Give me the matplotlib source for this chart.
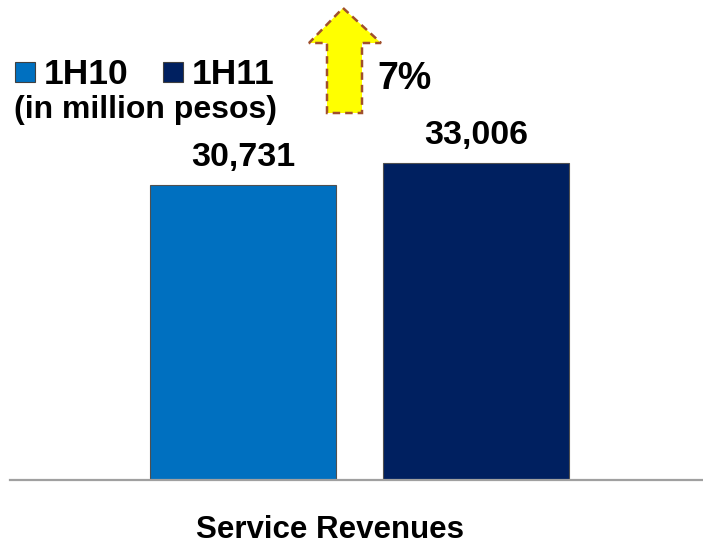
import matplotlib
matplotlib.use("Agg")
import matplotlib.pyplot as plt
from matplotlib.patches import Polygon, Rectangle

plt.rcParams['font.family'] = ['Liberation Sans', 'DejaVu Sans']

# half-year service revenues, in million pesos
periods = ['1H10', '1H11']
revenues = [30731, 33006]
bar_colors = ['#0070C0', '#002060']
category = 'Service Revenues'
growth_label = '7%'

W, H = 703, 549
fig = plt.figure(figsize=(W / 100, H / 100), dpi=100)
ax = fig.add_axes([10 / W, (H - 480) / H, 693 / W, 480 / H])

xpos = [0, 1]
bars = ax.bar(xpos, revenues, width=0.8, color=bar_colors,
              edgecolor='#505050', linewidth=0.8)
for b, v in zip(bars, revenues):
    ax.annotate(f'{v:,}', (b.get_x() + b.get_width() / 2, v),
                xytext=(0, 14), textcoords='offset points',
                ha='center', va='baseline', fontsize=24.5, fontweight='bold')

ax.set_xlim(-1.0, 1.975)
ax.set_ylim(0, 50000)
for s in ['top', 'left', 'right']:
    ax.spines[s].set_visible(False)
ax.spines['bottom'].set_color('#A0A0A0')
ax.spines['bottom'].set_linewidth(1.6)
ax.set_xticks([])
ax.set_yticks([])

def px(x, y):
    return (x / W, 1 - y / H)

fig.text(*px(330, 530), category, ha='center', va='center',
         fontsize=22.5, fontweight='bold')

# legend squares and labels
for (x0, lab), c in zip([(15, periods[0]), (163, periods[1])], bar_colors):
    fig.patches.append(Rectangle(px(x0, 82), 20 / W, 20 / H,
                                 transform=fig.transFigure,
                                 facecolor=c, edgecolor='#404040', lw=0.8))
    fig.text(*px(x0 + 29, 74), lab, ha='left', va='center',
             fontsize=25.5, fontweight='bold')
fig.text(*px(14, 110), '(in million pesos)', ha='left', va='center',
         fontsize=23, fontweight='bold')

# growth arrow
arrow_pts = [(343, 8), (381, 43), (362, 43), (362, 113),
             (327, 113), (327, 43), (309, 43)]
fig.patches.append(Polygon([px(x, y) for x, y in arrow_pts], closed=True,
                           transform=fig.transFigure, facecolor='#FFFF00',
                           edgecolor='#A0502D', lw=1.8, linestyle=(0, (3, 2))))
fig.text(*px(377, 79), growth_label, ha='left', va='center',
         fontsize=27, fontweight='bold')

fig.savefig('out.png', dpi=100)
